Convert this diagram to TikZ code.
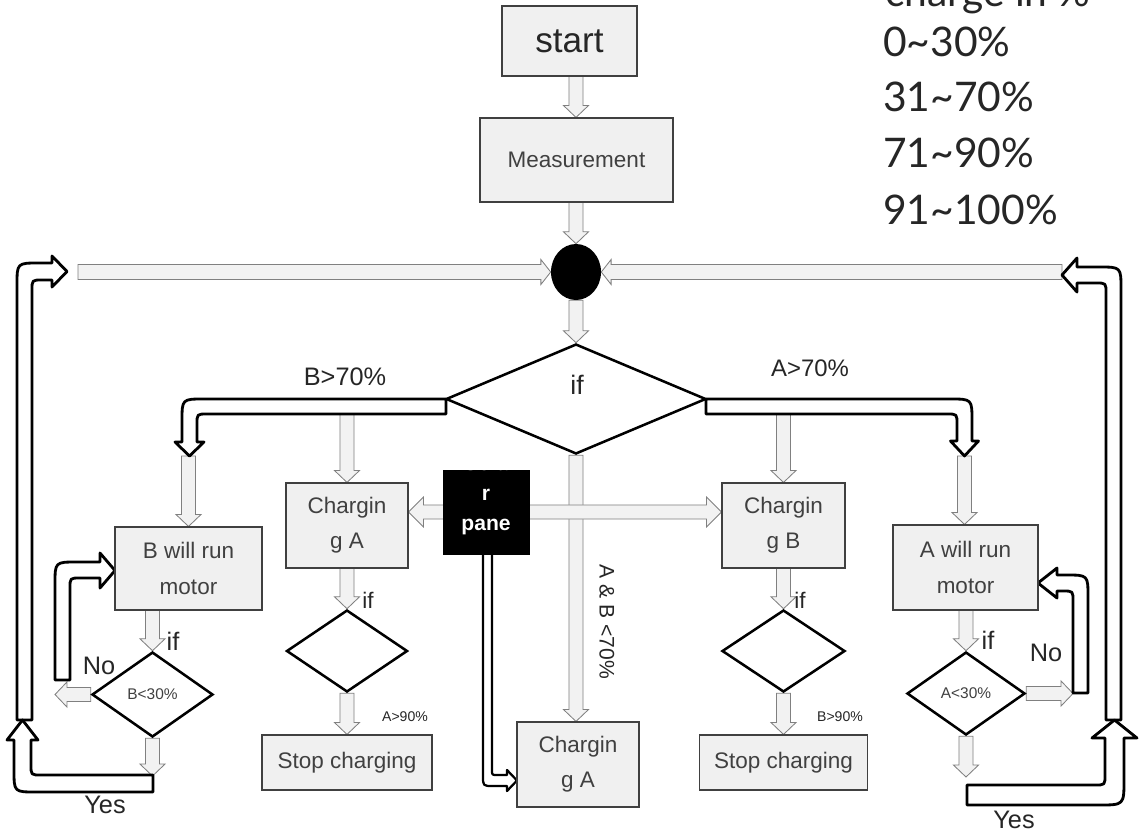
\documentclass[tikz,border=0pt]{standalone}
\usepackage{fontspec}
\setmainfont{Liberation Sans}
\newfontfamily\handfont{Lato}
\usetikzlibrary{shapes.geometric,calc,backgrounds}
\def\pu{0.025cm}
\tikzset{
 box/.style={draw=black!75, line width=0.8pt, fill=black!6, inner sep=0pt, align=center, text=black!75, font=\fontsize{16}{25}\selectfont},
 dia/.style={diamond, draw=black, line width=1.8pt, fill=white, inner sep=0pt, font=\fontsize{11}{13}\selectfont, text=black!75},
 garr/.style={draw=black!50, fill=black!5, line width=0.6pt, line join=miter},
 barr/.style={draw=black, fill=white, line width=2pt, line join=round},
 lbl/.style={inner sep=0pt, text=black!85},
 hand/.style={inner sep=0pt, anchor=west, text=black!85, font=\handfont\fontsize{29}{30}\selectfont},
}
\newcommand\garrow[5]{%
  \path (#1) coordinate (gA) (#2) coordinate (gB);
  \path ($(gB)!#5!(gA)$) coordinate (gH);
  \filldraw[garr] ($(gA)!#3!90:(gB)$) -- ($(gH)!#3!-90:(gA)$) -- ($(gH)!#4!-90:(gA)$) -- (gB) -- ($(gH)!#4!90:(gA)$) -- ($(gH)!#3!90:(gA)$) -- ($(gA)!#3!-90:(gB)$) -- cycle;
}
\newcommand\gdarrow[5]{%
  \path (#1) coordinate (gA) (#2) coordinate (gB);
  \path ($(gB)!#5!(gA)$) coordinate (gH) ($(gA)!#5!(gB)$) coordinate (gG);
  \filldraw[garr] (gA) -- ($(gG)!#4!90:(gB)$) -- ($(gG)!#3!90:(gB)$) -- ($(gH)!#3!-90:(gA)$) -- ($(gH)!#4!-90:(gA)$) -- (gB) -- ($(gH)!#4!90:(gA)$) -- ($(gH)!#3!90:(gA)$) -- ($(gG)!#3!-90:(gB)$) -- ($(gG)!#4!-90:(gB)$) -- cycle;
}
\begin{document}
\begin{tikzpicture}[x=0.025cm,y=-0.025cm]
\useasboundingbox (0,0) rectangle (1140,836);
\clip (0,0) rectangle (1140,836);

% nodes
\node[box, minimum width=135*\pu, minimum height=70*\pu, font=\fontsize{25}{30}\selectfont, text=black!85] (start) at (569.5,41) {start};
\node[box, minimum width=193*\pu, minimum height=84*\pu] (meas) at (576.5,160) {Measurement};
\node[ellipse, fill=black, minimum width=50*\pu, minimum height=56*\pu, inner sep=0pt] (circ) at (576,272) {};
\node[dia, minimum width=260*\pu, minimum height=110*\pu] (ifdia) at (576,399) {};
\node[box, minimum width=147*\pu, minimum height=83*\pu] (bmotor) at (188.5,568.5) {B will run\\motor};
\node[dia, minimum width=121*\pu, minimum height=85*\pu] (bdia) at (152.5,694.5) {B<30\%};
\node[box, minimum width=122*\pu, minimum height=85*\pu] (chargA) at (347,525.5) {Chargin\\g A};
\node[dia, minimum width=121*\pu, minimum height=82*\pu] (diaL) at (347,651) {};
\node[box, minimum width=170*\pu, minimum height=55*\pu] (stopL) at (347,762.5) {Stop charging};
\node[box, minimum width=122*\pu, minimum height=85*\pu] (chargA2) at (578,764.5) {Chargin\\g A};
\node[box, minimum width=123*\pu, minimum height=85*\pu] (chargB) at (783.5,525.5) {Chargin\\g B};
\node[dia, minimum width=123*\pu, minimum height=82*\pu] (diaR) at (783.5,651) {};
\node[box, minimum width=168*\pu, minimum height=55*\pu] (stopR) at (783.5,762.5) {Stop charging};
\node[box, minimum width=145*\pu, minimum height=85*\pu] (amotor) at (965.5,567.5) {A will run\\motor};
\node[dia, minimum width=118*\pu, minimum height=83*\pu] (adia) at (966,693.5) {A<30\%};
\node[draw=black, fill=black, minimum width=86*\pu, minimum height=84*\pu, inner sep=0pt, align=center, text=white, font=\bfseries\fontsize{15}{22}\selectfont] (solar) at (486,512) {r\\pane};
\begin{scope}
\clip (solar.south west) rectangle (solar.north east);
\node[text=white, font=\bfseries\fontsize{15}{22}\selectfont] (solartop) at (486,463) {Sola};
\end{scope}

% coordinates
\coordinate (lbarend) at (78,272);
\coordinate (rbarend) at (1062,272);
\coordinate (bbar) at (347,414);
\coordinate (bhead) at (188.5,456);
\coordinate (bno) at (55,694.5);
\coordinate (byes) at (152.5,776);
\coordinate (abar) at (783.5,414);
\coordinate (ahead) at (964.5,456);
\coordinate (ano) at (1073,693.5);
\coordinate (ayes) at (966,777);

\begin{pgfonlayer}{background}
\fill[white] (0,0) rectangle (1140,836);
% grey arrows
\garrow{start.south -| circ}{meas.north -| circ}{5pt}{8.9pt}{8.5pt}
\garrow{meas.south -| circ}{circ.north}{5pt}{8.9pt}{8.5pt}
\garrow{circ.south}{ifdia.north}{5pt}{8.9pt}{8.5pt}
\garrow{lbarend}{circ.west}{5.3pt}{8.9pt}{7pt}
\garrow{rbarend}{circ.east}{5.3pt}{8.9pt}{7pt}
\garrow{bbar}{chargA.north}{5pt}{8.9pt}{8.5pt}
\garrow{bhead}{bmotor.north -| bhead}{5pt}{8.9pt}{8.5pt}
\garrow{bmotor.south -| bdia}{bdia.north}{5pt}{8.9pt}{8.5pt}
\garrow{bdia.west}{bno}{5pt}{8.9pt}{8.5pt}
\garrow{bdia.south}{byes}{5pt}{8.9pt}{8.5pt}
\garrow{chargA.south}{diaL.north}{5pt}{8.9pt}{8.5pt}
\garrow{diaL.south}{stopL.north}{5pt}{8.9pt}{8.5pt}
\garrow{ifdia.south}{chargA2.north -| ifdia.south}{5pt}{8.9pt}{8.5pt}
\gdarrow{chargA.east |- solar}{chargB.west |- solar}{5pt}{10.6pt}{10.6pt}
\garrow{abar}{chargB.north}{5pt}{8.9pt}{8.5pt}
\garrow{ahead}{amotor.north -| ahead}{5pt}{8.9pt}{8.5pt}
\garrow{amotor.south -| adia}{adia.north}{5pt}{8.9pt}{8.5pt}
\garrow{adia.east}{ano}{5pt}{8.9pt}{8.5pt}
\garrow{adia.south}{ayes}{5pt}{8.9pt}{8.5pt}
\garrow{chargB.south}{diaR.north}{5pt}{8.9pt}{8.5pt}
\garrow{diaR.south}{stopR.north}{5pt}{8.9pt}{8.5pt}

% black bent arrows
\draw[barr] (446,399) -- (204,399) .. controls (182,399) .. (182,421) -- (182,442) -- (175,442) -- (189.5,456) -- (204,442) -- (197,442) -- (197,424) .. controls (197,414) .. (207,414) -- (446,414) -- cycle;
\draw[barr] (706,399) -- (950,399) .. controls (972,399) .. (972,421) -- (972,441) -- (978.5,441) -- (964.5,456) -- (950.5,441) -- (957,441) -- (957,424) .. controls (957,414) .. (947,414) -- (706,414) -- cycle;
\draw[barr] (17,720) -- (17,285) .. controls (17,263) .. (39,263) -- (52,263) -- (52,256) -- (67,271.5) -- (52,287) -- (52,280) -- (42,280) .. controls (32,280) .. (32,290) -- (32,720) -- cycle;
\draw[barr] (153,775) -- (41,775) .. controls (31,775) .. (31,765) -- (31,740) -- (38,740) -- (22.5,720) -- (7,740) -- (14,740) -- (14,770) .. controls (14,792) .. (36,792) -- (153,792) -- cycle;
\draw[barr] (1121,720) -- (1121,289) .. controls (1121,267) .. (1099,267) -- (1077,267) -- (1077,258) -- (1062,275) -- (1077,292) -- (1077,283) -- (1096,283) .. controls (1106,283) .. (1106,293) -- (1106,720) -- cycle;
\draw[barr] (967,785) -- (1095,785) .. controls (1105,785) .. (1105,775) -- (1105,738) -- (1092,738) -- (1114.5,720) -- (1137,738) -- (1124,738) -- (1124,780) .. controls (1124,805) .. (1099,805) -- (967,805) -- cycle;
\draw[barr] (55,680) -- (55,584) .. controls (55,562) .. (77,562) -- (100,562) -- (100,553) -- (115,570.5) -- (100,588) -- (100,578) -- (80,578) .. controls (70,578) .. (70,588) -- (70,680) -- cycle;
\draw[barr] (1088,693) -- (1088,597) .. controls (1088,575) .. (1066,575) -- (1057,575) -- (1057,568) -- (1038,583) -- (1057,598) -- (1057,591) -- (1063,591) .. controls (1073,591) .. (1073,601) -- (1073,693) -- cycle;
\draw[barr, line width=1.6pt] (483,553) -- (483,776) .. controls (483,786) .. (493,786) -- (507,786) -- (507,791) -- (517,780.5) -- (507,770) -- (507,775) -- (497,775) .. controls (492,775) .. (492,770) -- (492,553) -- cycle;
\end{pgfonlayer}

% labels
\node[lbl, font=\fontsize{18}{20}\selectfont] (lb70) at (345,377) {B>70\%};
\node[lbl, font=\fontsize{17}{20}\selectfont] (la70) at (810,368) {A>70\%};
\node[lbl, font=\fontsize{19}{20}\selectfont] (lif) at (577,385) {if};
\node[lbl, font=\fontsize{18}{20}\selectfont] (lifb) at (173,641) {if};
\node[lbl, font=\fontsize{16}{20}\selectfont] (lifl) at (368,600) {if};
\node[lbl, font=\fontsize{16}{20}\selectfont] (lifr) at (800,600) {if};
\node[lbl, font=\fontsize{18}{20}\selectfont] (lifa) at (988,640) {if};
\node[lbl, font=\fontsize{18}{20}\selectfont] (lnob) at (99,666) {No};
\node[lbl, font=\fontsize{18}{20}\selectfont] (lnoa) at (1046,653) {No};
\node[lbl, font=\fontsize{18}{20}\selectfont] (lyesb) at (105,805) {Yes};
\node[lbl, font=\fontsize{18}{20}\selectfont] (lyesa) at (1014,820) {Yes};
\node[lbl, font=\fontsize{10}{12}\selectfont] (la90) at (405,717) {A>90\%};
\node[lbl, font=\fontsize{10}{12}\selectfont] (lb90) at (840,717) {B>90\%};
\node[lbl, font=\fontsize{15}{18}\selectfont, rotate=-90] (lab70) at (607,622) {A \& B <70\%};

% legend top right
\node[inner sep=0pt, anchor=base west, text=black!85, font=\handfont\fontsize{29}{30}\selectfont] (t0) at (885,6) {charge in \%};
\node[hand] (t1) at (883,42) {0\textasciitilde30\%};
\node[hand] (t2) at (883,97) {31\textasciitilde70\%};
\node[hand] (t3) at (883,153) {71\textasciitilde90\%};
\node[hand] (t4) at (883,210) {91\textasciitilde100\%};
\end{tikzpicture}
\end{document}
